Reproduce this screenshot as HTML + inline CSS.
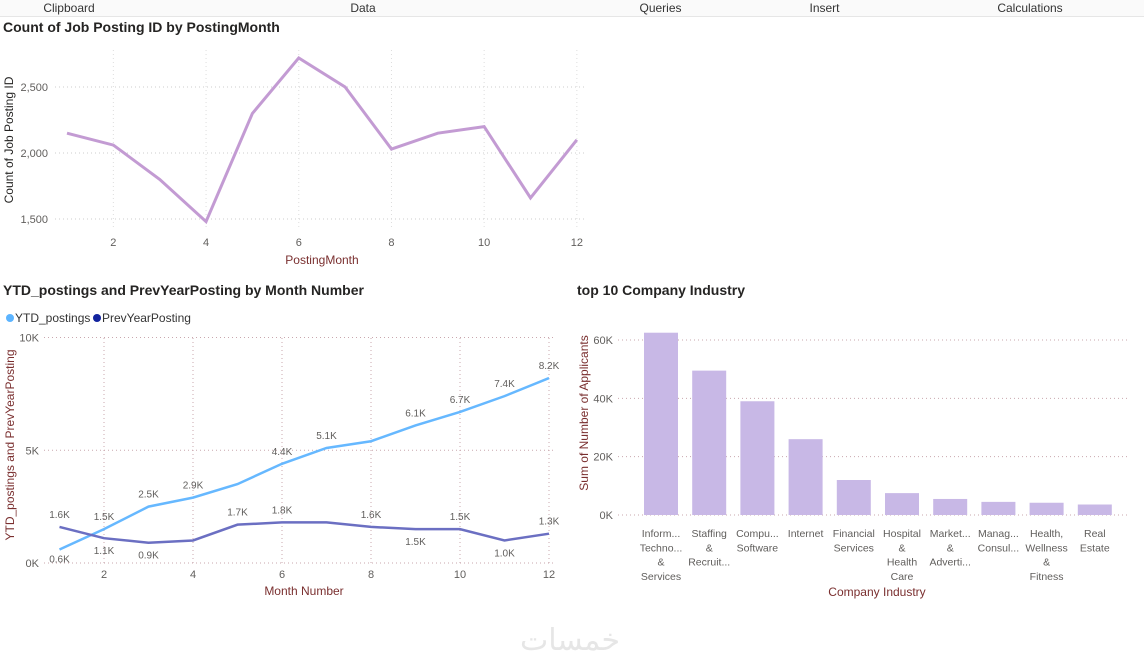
<!DOCTYPE html>
<html><head><meta charset="utf-8"><style>
body{margin:0;width:1144px;height:667px;background:#fff;overflow:hidden;font-family:"Liberation Sans","DejaVu Sans",sans-serif;position:relative}
.rib{position:absolute;top:0;height:16px;border-right:1px solid #ddd;font-size:12px;color:#333;text-align:center;line-height:16px;background:#fafafa;border-bottom:1px solid #e6e6e6}
.t{position:absolute;font-size:14px;font-weight:bold;color:#252423}
svg{position:absolute;left:0;top:0}
</style></head><body>
<div class="rib" style="left:0;width:138px">Clipboard</div>
<div class="rib" style="left:138px;width:450px">Data</div>
<div class="rib" style="left:588px;width:145px">Queries</div>
<div class="rib" style="left:733px;width:183px">Insert</div>
<div class="rib" style="left:916px;width:228px">Calculations</div>
<div class="t" style="left:3px;top:19px">Count of Job Posting ID by PostingMonth</div>
<div class="t" style="left:3px;top:282px">YTD_postings and PrevYearPosting by Month Number</div>
<div class="t" style="left:577px;top:282px">top 10 Company Industry</div>
<svg id="s" width="1144" height="667"></svg>
<script>
const months=[1,2,3,4,5,6,7,8,9,10,11,12];
const postCounts=[2150,2060,1800,1480,2300,2720,2500,2030,2150,2200,1660,2100];
const c1Ticks=[1500,2000,2500];
const ytd=[0.6,1.5,2.5,2.9,3.5,4.4,5.1,5.4,6.1,6.7,7.4,8.2];
const prev=[1.6,1.1,0.9,1.0,1.7,1.8,1.8,1.6,1.5,1.5,1.0,1.3];
const ytdLabels=["0.6K","1.5K","2.5K","2.9K","","4.4K","5.1K","","6.1K","6.7K","7.4K","8.2K"];
const prevLabels=["1.6K","1.1K","0.9K","","1.7K","1.8K","","1.6K","1.5K","1.5K","1.0K","1.3K"];
const prevBelow=[false,true,true,false,false,false,false,false,true,false,true,false];
const c2Ticks=[0,5,10];
const industries=[["Inform...","Techno...","&","Services"],["Staffing","&","Recruit..."],["Compu...","Software"],["Internet"],["Financial","Services"],["Hospital","&","Health","Care"],["Market...","&","Adverti..."],["Manag...","Consul..."],["Health,","Wellness","&","Fitness"],["Real","Estate"]];
const applicants=[62.5,49.5,39,26,12,7.5,5.5,4.5,4.2,3.6];
const c3Ticks=[0,20,40,60];
const S=document.getElementById('s');const NS='http://www.w3.org/2000/svg';
function mk(tag,at,txt){const e=document.createElementNS(NS,tag);for(const k in at)e.setAttribute(k,at[k]);if(txt!==undefined)e.textContent=txt;S.appendChild(e);return e;}
const tc='#605e5c',ac='#7a2f2f';
// chart1
const x1=m=>67+(m-1)*46.35, y1=v=>219-(v-1500)*66/500;
c1Ticks.forEach(v=>{let l=mk('line',{x1:55,x2:585,y1:y1(v),y2:y1(v),stroke:'#ccc','stroke-dasharray':'1,3'});
let t=mk('text',{x:48,y:y1(v)+4,'font-size':11,fill:tc,'text-anchor':'end'},v.toLocaleString('en-US'));});
[2,4,6,8,10,12].forEach(m=>{let l=mk('line',{x1:x1(m),x2:x1(m),y1:50,y2:228,stroke:'#ddd','stroke-dasharray':'1,3'});
let t=mk('text',{x:x1(m),y:246,'font-size':11,fill:tc,'text-anchor':'middle'},m);});
let p1=mk('polyline',{points:months.map((m,i)=>x1(m)+','+y1(postCounts[i])).join(' '),fill:'none',stroke:'#c39bd3','stroke-width':3});

let a=mk('text',{x:322,y:264,'font-size':12,fill:ac,'text-anchor':'middle'},'PostingMonth');
a=mk('text',{x:0,y:0,'font-size':12,fill:'#252423','text-anchor':'middle',transform:'translate(13,140) rotate(-90)'},'Count of Job Posting ID');
// chart2 legend
[[10,'#5cb4ff','YTD_postings'],[97,'#12239e','PrevYearPosting']].forEach(([x,c,n])=>{let d=mk('circle',{cx:x,cy:318,r:4,fill:c});
let t=mk('text',{x:x+5,y:322,'font-size':12,fill:'#333'},n);});
const x2=m=>59.5+(m-1)*44.5, y2=v=>563-v*22.55;
c2Ticks.forEach(v=>{let l=mk('line',{x1:44,x2:553,y1:y2(v),y2:y2(v),stroke:'#c9a7ae','stroke-dasharray':'1,3'});
let t=mk('text',{x:39,y:y2(v)+4,'font-size':11,fill:tc,'text-anchor':'end'},v+'K');});
[2,4,6,8,10,12].forEach(m=>{let l=mk('line',{x1:x2(m),x2:x2(m),y1:338,y2:566,stroke:'#c9a7ae','stroke-dasharray':'1,3'});
let t=mk('text',{x:x2(m),y:578,'font-size':11,fill:tc,'text-anchor':'middle'},m);});
let p2=mk('polyline',{points:months.map((m,i)=>x2(m)+','+y2(ytd[i])).join(' '),fill:'none',stroke:'#66b8ff','stroke-width':2.5});
let p3=mk('polyline',{points:months.map((m,i)=>x2(m)+','+y2(prev[i])).join(' '),fill:'none',stroke:'#6b6fc2','stroke-width':2.5});
months.forEach((m,i)=>{if(ytdLabels[i]){let yy=i==0?y2(ytd[i])+13:y2(ytd[i])-9;let t=mk('text',{x:x2(m),y:yy,'font-size':10,fill:tc,'text-anchor':'middle'},ytdLabels[i]);}
if(prevLabels[i]){let yy=prevBelow[i]?y2(prev[i])+16:y2(prev[i])-9;let t=mk('text',{x:x2(m),y:yy,'font-size':10,fill:tc,'text-anchor':'middle'},prevLabels[i]);}});
a=mk('text',{x:304,y:595,'font-size':12,fill:ac,'text-anchor':'middle'},'Month Number');
a=mk('text',{x:0,y:0,'font-size':12,fill:ac,'text-anchor':'middle',transform:'translate(14,445) rotate(-90)'},'YTD_postings and PrevYearPosting');
// chart3
const y3=v=>515-v*175/60, xc=i=>661+i*48.2;
c3Ticks.forEach(v=>{let l=mk('line',{x1:618,x2:1130,y1:y3(v),y2:y3(v),stroke:'#c9a7ae','stroke-dasharray':'1,3'});
let t=mk('text',{x:613,y:y3(v)+4,'font-size':11,fill:tc,'text-anchor':'end'},v+'K');});
applicants.forEach((v,i)=>{let r=mk('rect',{x:xc(i)-17,y:y3(v),width:34,height:515-y3(v),fill:'#c8b8e6'});
industries[i].forEach((ln,j)=>{let t=mk('text',{x:xc(i),y:537+j*14.3,'font-size':10.5,fill:tc,'text-anchor':'middle'},ln);});});
a=mk('text',{x:877,y:596,'font-size':12,fill:ac,'text-anchor':'middle'},'Company Industry');
a=mk('text',{x:0,y:0,'font-size':12,fill:ac,'text-anchor':'middle',transform:'translate(588,413) rotate(-90)'},'Sum of Number of Applicants');
a=mk('text',{x:570,y:650,'font-size':30,fill:'#e6e6e6','text-anchor':'middle','font-family':'DejaVu Sans, sans-serif'},'خمسات');
</script>
</body></html>
